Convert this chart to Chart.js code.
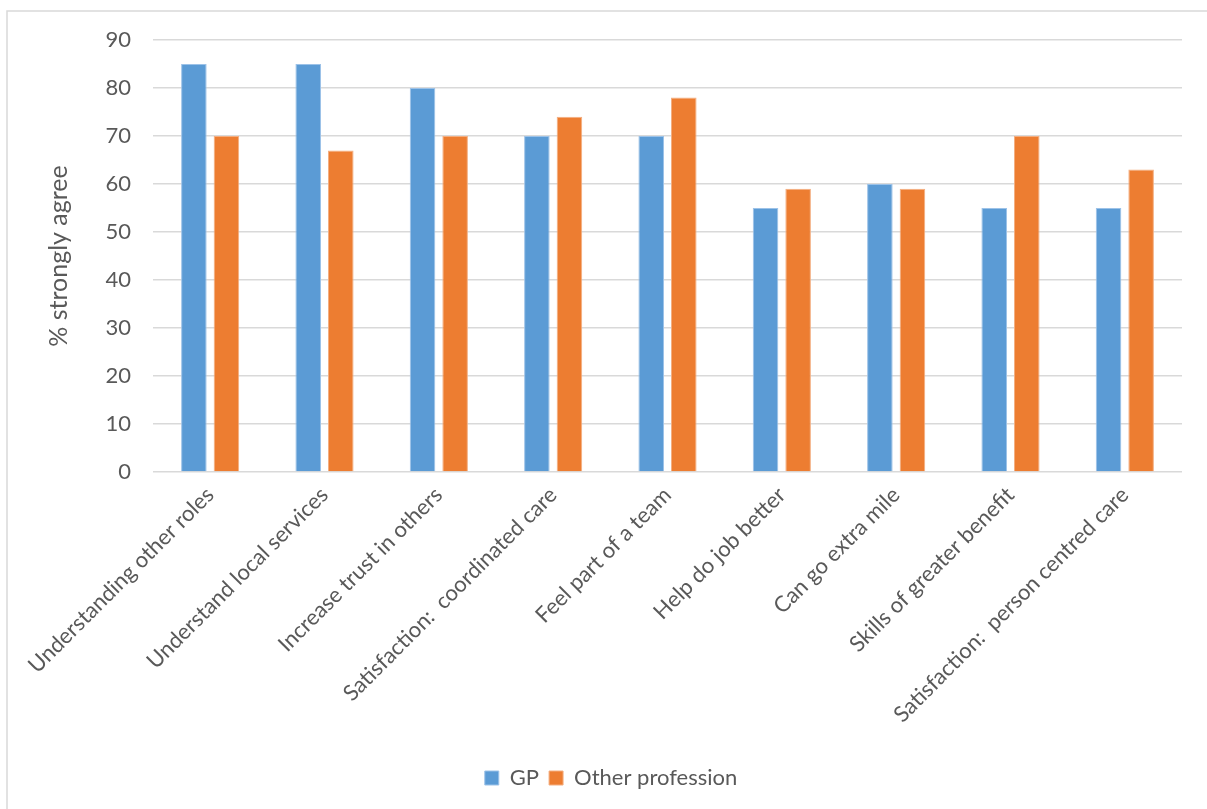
<!DOCTYPE html>
<html>
<head>
<meta charset="utf-8">
<script src="https://cdn.jsdelivr.net/npm/chart.js@4/dist/chart.umd.min.js"></script>
<style>
  html, body { margin: 0; padding: 0; background: #ffffff; }
  #wrap { position: relative; width: 1207px; height: 809px; }
</style>
</head>
<body>
<div id="wrap"><canvas id="chart" width="1207" height="809"></canvas></div>
<script>
// Survey items and the share of respondents who strongly agree (%)
const categories = [
  'Understanding other roles',
  'Understand local services',
  'Increase trust in others',
  'Satisfaction:  coordinated care',
  'Feel part of a team',
  'Help do job better',
  'Can go extra mile',
  'Skills of greater benefit',
  'Satisfaction:  person centred care'
];
const gpValues    = [85, 85, 80, 70, 70, 55, 60, 55, 55];
const otherValues = [70, 67, 70, 74, 78, 59, 59, 70, 63];
const seriesNames = ['GP', 'Other profession'];
const yTicks = { min: 0, max: 90, step: 10 };
const yTitle = '% strongly agree';

const FONT = 'Lato, "Open Sans", sans-serif';
const TEXT = '#595959';

// light frame around the whole chart
const framePlugin = {
  id: 'frame',
  beforeDraw(chart) {
    const ctx = chart.ctx;
    ctx.save();
    ctx.fillStyle = '#ffffff';
    ctx.fillRect(0, 0, chart.width, chart.height);
    ctx.strokeStyle = '#d9d9d9';
    ctx.lineWidth = 1.5;
    ctx.strokeRect(7, 11, chart.width + 20, chart.height + 20);
    ctx.restore();
  }
};

new Chart(document.getElementById('chart'), {
  type: 'bar',
  data: {
    labels: categories,
    datasets: [
      {
        label: seriesNames[0],
        data: gpValues,
        backgroundColor: '#5B9BD5',
        borderColor: '#9cc2e8',
        borderWidth: 1,
        categoryPercentage: 0.57,
        barPercentage: 0.785
      },
      {
        label: seriesNames[1],
        data: otherValues,
        backgroundColor: '#ED7D31',
        borderColor: '#f4ae80',
        borderWidth: 1,
        categoryPercentage: 0.57,
        barPercentage: 0.785
      }
    ]
  },
  options: {
    responsive: false,
    animation: false,
    layout: { padding: { left: 40, right: 25, top: 40, bottom: 10 } },
    plugins: {
      tooltip: { enabled: false },
      legend: {
        position: 'bottom',
        labels: {
          color: TEXT,
          font: { family: FONT, size: 22 },
          boxWidth: 14,
          boxHeight: 14,
          padding: 10
        }
      }
    },
    scales: {
      x: {
        grid: { display: false, drawTicks: false },
        border: { display: false },
        ticks: {
          color: TEXT,
          font: { family: FONT, size: 22 },
          minRotation: 45,
          maxRotation: 45,
          padding: 10,
          autoSkip: false
        },
        afterFit(scale) { scale.height = 285; }
      },
      y: {
        min: yTicks.min,
        max: yTicks.max,
        grid: { color: '#d9d9d9', lineWidth: 1.5, drawTicks: false },
        border: { display: false },
        ticks: {
          stepSize: yTicks.step,
          color: TEXT,
          font: { family: FONT, size: 22 },
          padding: 22
        },
        title: {
          display: true,
          text: yTitle,
          color: TEXT,
          font: { family: FONT, size: 25, weight: 'normal' }
        },
        afterFit(scale) { scale.width = 113; }
      }
    }
  },
  plugins: [framePlugin]
});
</script>
</body>
</html>
